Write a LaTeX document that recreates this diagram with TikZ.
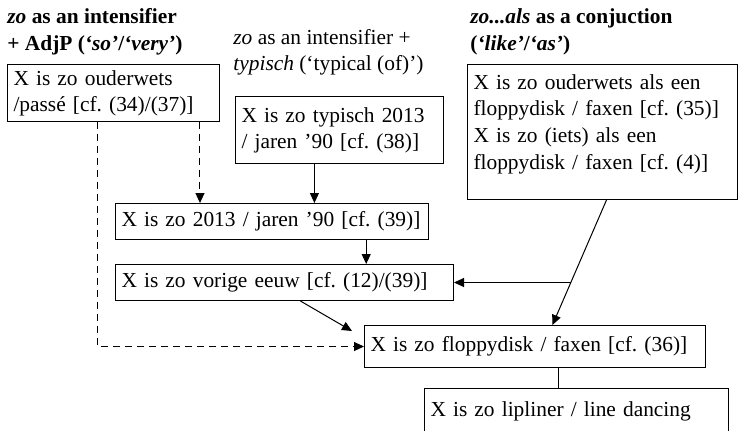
\documentclass[tikz,border=0pt]{standalone}
\usepackage{fontspec}
\setmainfont{Liberation Serif}
\usetikzlibrary{arrows.meta, calc}
\frenchspacing

\tikzset{
  box/.style={draw, line width=0.5pt, anchor=north west, align=left, inner xsep=3pt, inner ysep=0pt, font=\fontsize{10.7}{13}\selectfont},
  hdr/.style={anchor=north west, align=left, inner sep=0pt, font=\fontsize{10.7}{13.5}\selectfont\bfseries},
  link/.style={line width=0.5pt, -{Triangle[length=5pt,width=4.5pt]}},
  soft/.style={link, dash pattern=on 3.5pt off 2.5pt},
}

\begin{document}
\begin{tikzpicture}[x=0.5pt, y=-0.5pt]
  \useasboundingbox (0,0) rectangle (739,430);
  % headings
  \node[hdr] (hdAdj) at (7,8) {\textit{zo} as an intensifier\\+ AdjP (\textit{‘so’}/\textit{‘very’})};
  \node[hdr, font=\fontsize{10.7}{13}\selectfont] (hdTyp) at (233,29) {\textit{zo} as an intensifier +\\\textit{typisch} (‘typical (of)’)};
  \node[hdr] (hdConj) at (470,8) {\textit{zo...als} as a conjuction\\(\textit{‘like’}/\textit{‘as’})};

  % boxes
  \node[box, text width=100pt, minimum height=28.5pt] (ouderwets) at (7,64) {X is zo ouderwets\\/passé [cf. (34)/(37)]};
  \node[box, text width=98pt, minimum height=33.5pt] (typisch) at (235,96) {X is zo typisch 2013\\/ jaren ’90 [cf. (38)]};
  \node[box, text width=129pt, inner ysep=5pt, text depth=50pt, font=\fontsize{10.7}{13.3}\selectfont] (conj) at (467,64) {X is zo ouderwets als een\\floppydisk / faxen [cf. (35)]\\X is zo (iets) als een\\floppydisk / faxen [cf. (4)]};
  \node[box, text width=150.5pt, minimum height=18pt] (jaren) at (115,203) {X is zo 2013 / jaren ’90 [cf. (39)]};
  \node[box, text width=163pt, minimum height=18pt] (vorige) at (115,264) {X is zo vorige eeuw [cf. (12)/(39)]};
  \node[box, text width=164.5pt, minimum height=21pt] (floppy) at (364,325) {X is zo floppydisk / faxen [cf. (36)]};
  \node[box, text width=146pt, minimum height=23pt] (lipliner) at (424,388) {X is zo lipliner / line dancing};

  % dashed links from the AdjP box
  \coordinate (ow1) at ($(ouderwets.south west)!0.425!(ouderwets.south east)$);
  \coordinate (ow2) at ($(ouderwets.south west)!0.906!(ouderwets.south east)$);
  \draw[soft] (ow1) |- (floppy.west);
  \draw[soft] (ow2) -- (ow2 |- jaren.north);

  % solid links
  \coordinate (ty) at ($(typisch.south west)!0.38!(typisch.south east)$);
  \draw[link] (ty) -- (ty |- jaren.north);
  \coordinate (ja) at ($(jaren.south west)!0.80!(jaren.south east)$);
  \draw[link] (ja) -- (ja |- vorige.north);
  \coordinate (vo) at ($(vorige.south west)!0.547!(vorige.south east)$);
  \draw[link] (vo) -- ($(floppy.north west)+(-12,6)$);

  \coordinate (cj) at ($(conj.south west)!0.515!(conj.south east)$);
  \coordinate (fl) at ($(floppy.north west)!0.551!(floppy.north east)$);
  \draw[link] (cj) -- (fl);
  \coordinate (ve) at ($(vorige.east)+(10,0)$);
  \coordinate (jn) at (intersection of cj--fl and vorige.east--ve);
  \draw[link] (jn) -- (vorige.east);

  \coordinate (fp) at ($(floppy.south west)!0.569!(floppy.south east)$);
  \draw (fp) -- (fp |- lipliner.north);
\end{tikzpicture}
\end{document}
